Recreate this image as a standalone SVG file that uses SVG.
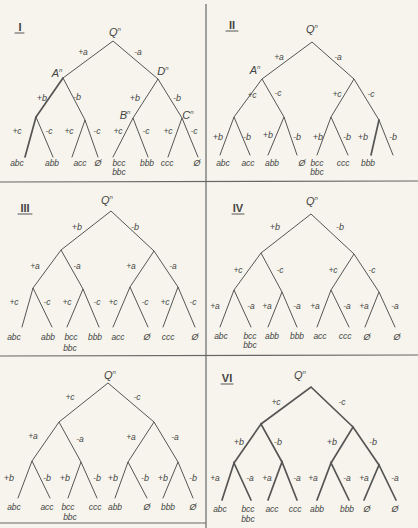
<svg xmlns="http://www.w3.org/2000/svg" width="418" height="528" viewBox="0 0 418 528">
<style>
.e{stroke:#555;stroke-width:1;fill:none;stroke-linecap:round}
.t{stroke-width:1.7}
.fr{stroke:#666;stroke-width:1.2;fill:none}
text{font-family:"Liberation Sans",Arial,sans-serif;font-style:italic;fill:#444;text-anchor:middle}
.l{font-size:8.5px}
.v{font-size:9px}
.q{font-size:11px}
.r{font-size:11px;font-weight:bold;font-style:normal}
.s{font-size:6px}
</style>
<rect width="418" height="528" fill="#f6f4ec"/>
<g id="frame">
<line class="fr" x1="206" y1="4" x2="206" y2="528"/>
<line class="fr" x1="0" y1="182" x2="418" y2="181"/>
<line class="fr" x1="0" y1="356" x2="418" y2="355"/>
<line class="fr" x1="0" y1="523" x2="206" y2="523"/>
</g>

<!-- Panel I -->
<g id="panel1">
<g id="p1-edges">
<polyline class="e" points="63,78 113,41 158,79"/>
<line class="e t" x1="63" y1="78" x2="36" y2="117"/>
<line class="e" x1="63" y1="78" x2="85" y2="120"/>
<polyline class="e" points="133,118 158,79 182,118"/>
<line class="e t" x1="36" y1="117" x2="25" y2="157"/>
<line class="e" x1="36" y1="117" x2="53" y2="157"/>
<polyline class="e" points="72,157 85,120 98,157"/>
<polyline class="e" points="113,157 133,118 148,157"/>
<polyline class="e" points="168,157 182,118 198,157"/>
</g>
<g id="p1-title"><text class="r" x="20" y="31">I</text><line class="e" x1="15" y1="33" x2="24" y2="33"/></g>
<g id="p1-root"><text class="q" x="115" y="36">Q<tspan class="s" dy="-5">n</tspan></text></g>
<g id="p1-A"><text class="q" x="57" y="77">A<tspan class="s" dy="-5">n</tspan></text></g>
<g id="p1-D"><text class="q" x="163" y="75">D<tspan class="s" dy="-5">n</tspan></text></g>
<g id="p1-B"><text class="q" x="125" y="119">B<tspan class="s" dy="-5">n</tspan></text></g>
<g id="p1-C"><text class="q" x="188" y="119">C<tspan class="s" dy="-5">n</tspan></text></g>
<g id="p1-labels">
<text class="l" x="83" y="55">+a</text><text class="l" x="138" y="55">-a</text>
<text class="v" x="42" y="101">+b</text><text class="v" x="77" y="100">-b</text>
<text class="v" x="135" y="101">+b</text><text class="v" x="177" y="101">-b</text>
<text class="l" x="17" y="134">+c</text><text class="l" x="49" y="134">-c</text>
<text class="l" x="69" y="134">+c</text><text class="l" x="97" y="134">-c</text>
<text class="l" x="118" y="134">+c</text><text class="l" x="146" y="134">-c</text>
<text class="l" x="168" y="134">+c</text><text class="l" x="194" y="134">-c</text>
</g>
<g id="p1-leaves">
<text class="l" x="17" y="166">abc</text><text class="l" x="52" y="166">abb</text>
<text class="l" x="80" y="166">acc</text><text class="v" x="98" y="166">Ø</text>
<text class="l" x="119" y="166">bcc</text><text class="l" x="119" y="175">bbc</text>
<text class="l" x="147" y="166">bbb</text><text class="l" x="167" y="166">ccc</text>
<text class="v" x="197" y="166">Ø</text>
</g>
</g>

<!-- Panel II -->
<g id="panel2">
<g id="p2-edges">
<polyline class="e" points="262,79 312,42 354,79"/>
<polyline class="e" points="234,117 262,79 284,117"/>
<polyline class="e" points="331,117 354,79 379,120"/>
<polyline class="e" points="220,155 234,117 250,155"/>
<polyline class="e" points="268,155 284,117 297,155"/>
<polyline class="e" points="317,155 331,117 348,155"/>
<polyline class="e t" points="371,155 379,120"/>
<polyline class="e" points="379,120 393,155"/>
</g>
<g id="p2-title"><text class="r" x="232" y="29">II</text><line class="e" x1="226" y1="31" x2="238" y2="31"/></g>
<g id="p2-root"><text class="q" x="312" y="33">Q<tspan class="s" dy="-5">n</tspan></text></g>
<g id="p2-A"><text class="q" x="255" y="74">A<tspan class="s" dy="-5">n</tspan></text></g>
<g id="p2-labels">
<text class="l" x="279" y="60">+a</text><text class="l" x="338" y="60">-a</text>
<text class="l" x="252" y="98">+c</text><text class="l" x="278" y="96">-c</text>
<text class="l" x="337" y="97">+c</text><text class="l" x="371" y="97">-c</text>
<text class="v" x="218" y="140">+b</text><text class="v" x="247" y="140">-b</text>
<text class="v" x="268" y="138">+b</text><text class="v" x="297" y="140">-b</text>
<text class="v" x="318" y="140">+b</text><text class="v" x="347" y="140">-b</text>
<text class="v" x="363" y="140">+b</text><text class="v" x="393" y="140">-b</text>
</g>
<g id="p2-leaves">
<text class="l" x="223" y="166">abc</text><text class="l" x="248" y="166">acc</text>
<text class="l" x="272" y="166">abb</text><text class="v" x="302" y="166">Ø</text>
<text class="l" x="317" y="166">bcc</text><text class="l" x="317" y="175">bbc</text>
<text class="l" x="343" y="166">ccc</text><text class="l" x="368" y="166">bbb</text>
</g>
</g>

<!-- Panel III -->
<g id="panel3">
<g id="p3-edges">
<polyline class="e" points="61,250 111,211 154,251"/>
<polyline class="e" points="33,288 61,250 83,289"/>
<polyline class="e" points="130,287 154,251 178,287"/>
<polyline class="e" points="22,327 33,288 52,327"/>
<polyline class="e" points="67,327 83,289 99,327"/>
<polyline class="e" points="113,327 130,287 148,327"/>
<polyline class="e" points="163,327 178,287 195,327"/>
</g>
<g id="p3-title"><text class="r" x="25" y="212">III</text><line class="e" x1="18" y1="214" x2="32" y2="214"/></g>
<g id="p3-root"><text class="q" x="107" y="204">Q<tspan class="s" dy="-5">n</tspan></text></g>
<g id="p3-labels">
<text class="v" x="77" y="230">+b</text><text class="v" x="135" y="230">-b</text>
<text class="l" x="35" y="269">+a</text><text class="l" x="77" y="269">-a</text>
<text class="l" x="131" y="269">+a</text><text class="l" x="173" y="269">-a</text>
<text class="l" x="14" y="305">+c</text><text class="l" x="47" y="305">-c</text>
<text class="l" x="67" y="305">+c</text><text class="l" x="97" y="305">-c</text>
<text class="l" x="113" y="305">+c</text><text class="l" x="145" y="305">-c</text>
<text class="l" x="165" y="305">+c</text><text class="l" x="193" y="305">-c</text>
</g>
<g id="p3-leaves">
<text class="l" x="14" y="340">abc</text><text class="l" x="48" y="340">abb</text>
<text class="l" x="71" y="340">bcc</text><text class="l" x="70" y="351">bbc</text>
<text class="l" x="95" y="340">bbb</text><text class="l" x="118" y="340">acc</text>
<text class="v" x="147" y="340">Ø</text><text class="l" x="168" y="340">ccc</text>
<text class="v" x="195" y="340">Ø</text>
</g>
</g>

<!-- Panel IV -->
<g id="panel4">
<g id="p4-edges">
<polyline class="e" points="261,253 311,214 354,254"/>
<polyline class="e" points="234,290 261,253 282,292"/>
<polyline class="e" points="331,290 354,254 379,292"/>
<polyline class="e" points="220,327 234,290 251,327"/>
<polyline class="e" points="268,327 282,292 297,327"/>
<polyline class="e" points="317,327 331,290 349,327"/>
<polyline class="e" points="365,327 379,292 395,327"/>
</g>
<g id="p4-title"><text class="r" x="238" y="212">IV</text><line class="e" x1="232" y1="214" x2="244" y2="214"/></g>
<g id="p4-root"><text class="q" x="312" y="205">Q<tspan class="s" dy="-5">n</tspan></text></g>
<g id="p4-labels">
<text class="v" x="275" y="230">+b</text><text class="v" x="340" y="230">-b</text>
<text class="l" x="238" y="273">+c</text><text class="l" x="280" y="273">-c</text>
<text class="l" x="333" y="273">+c</text><text class="l" x="372" y="273">-c</text>
<text class="l" x="215" y="309">+a</text><text class="l" x="251" y="309">-a</text>
<text class="l" x="267" y="309">+a</text><text class="l" x="297" y="309">-a</text>
<text class="l" x="315" y="309">+a</text><text class="l" x="347" y="309">-a</text>
<text class="l" x="364" y="309">+a</text><text class="l" x="395" y="309">-a</text>
</g>
<g id="p4-leaves">
<text class="l" x="221" y="339">abc</text><text class="l" x="250" y="339">bcc</text>
<text class="l" x="250" y="348">bbc</text><text class="l" x="272" y="339">abb</text>
<text class="l" x="297" y="339">bbb</text><text class="l" x="320" y="339">acc</text>
<text class="l" x="345" y="339">ccc</text><text class="v" x="367" y="340">Ø</text>
<text class="v" x="397" y="340">Ø</text>
</g>
</g>

<!-- Panel V -->
<g id="panel5">
<g id="p5-edges">
<polyline class="e" points="59,422 108,383 154,422"/>
<polyline class="e" points="32,461 59,422 81,462"/>
<polyline class="e" points="128,462 154,422 178,462"/>
<polyline class="e" points="18,498 32,461 50,498"/>
<polyline class="e" points="68,498 81,462 97,498"/>
<polyline class="e" points="115,498 128,462 147,498"/>
<polyline class="e" points="163,498 178,462 193,498"/>
</g>
<g id="p5-root"><text class="q" x="110" y="379">Q<tspan class="s" dy="-5">n</tspan></text></g>
<g id="p5-labels">
<text class="l" x="70" y="400">+c</text><text class="l" x="137" y="400">-c</text>
<text class="l" x="33" y="439">+a</text><text class="l" x="80" y="442">-a</text>
<text class="l" x="131" y="440">+a</text><text class="l" x="175" y="440">-a</text>
<text class="v" x="9" y="481">+b</text><text class="v" x="47" y="481">-b</text>
<text class="v" x="65" y="481">+b</text><text class="v" x="97" y="481">-b</text>
<text class="v" x="113" y="481">+b</text><text class="v" x="145" y="481">-b</text>
<text class="v" x="163" y="481">+b</text><text class="v" x="193" y="481">-b</text>
</g>
<g id="p5-leaves">
<text class="l" x="14" y="510">abc</text><text class="l" x="47" y="510">acc</text>
<text class="l" x="68" y="510">bcc</text><text class="l" x="70" y="520">bbc</text>
<text class="l" x="95" y="510">ccc</text><text class="l" x="115" y="510">abb</text>
<text class="v" x="147" y="510">Ø</text><text class="l" x="168" y="510">bbb</text>
<text class="v" x="193" y="510">Ø</text>
</g>
</g>

<!-- Panel VI -->
<g id="panel6">
<g id="p6-edges">
<polyline class="e t" points="261,424 311,387 353,427"/>
<polyline class="e t" points="234,463 261,424 282,462"/>
<polyline class="e t" points="331,463 353,427 379,465"/>
<polyline class="e t" points="222,500 234,463 251,500"/>
<polyline class="e t" points="268,500 282,462 297,500"/>
<polyline class="e t" points="317,500 331,463 349,500"/>
<polyline class="e t" points="364,500 379,465 396,500"/>
</g>
<g id="p6-title"><text class="r" x="227" y="382">VI</text><line class="e" x1="221" y1="384" x2="233" y2="384"/></g>
<g id="p6-root"><text class="q" x="300" y="379">Q<tspan class="s" dy="-5">n</tspan></text></g>
<g id="p6-labels">
<text class="l" x="276" y="405">+c</text><text class="l" x="342" y="405">-c</text>
<text class="v" x="239" y="445">+b</text><text class="v" x="278" y="445">-b</text>
<text class="v" x="332" y="445">+b</text><text class="v" x="373" y="445">-b</text>
<text class="l" x="215" y="481">+a</text><text class="l" x="250" y="481">-a</text>
<text class="l" x="267" y="481">+a</text><text class="l" x="297" y="481">-a</text>
<text class="l" x="313" y="481">+a</text><text class="l" x="347" y="481">-a</text>
<text class="l" x="364" y="481">+a</text><text class="l" x="395" y="481">-a</text>
</g>
<g id="p6-leaves">
<text class="l" x="220" y="512">abc</text><text class="l" x="248" y="512">bcc</text>
<text class="l" x="248" y="522">bbc</text><text class="l" x="272" y="512">acc</text>
<text class="l" x="295" y="512">ccc</text><text class="l" x="317" y="512">abb</text>
<text class="l" x="347" y="512">bbb</text><text class="v" x="367" y="512">Ø</text>
<text class="v" x="395" y="512">Ø</text>
</g>
</g>
</svg>
